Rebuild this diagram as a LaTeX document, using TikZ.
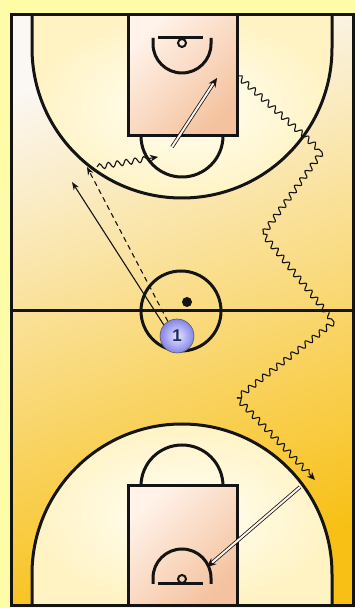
\documentclass[tikz,border=0pt]{standalone}
\usepackage{fontspec}
\newfontfamily\numfont{Liberation Sans}
\usepackage{tikz}
\usetikzlibrary{arrows.meta,decorations.pathmorphing}
\definecolor{Frame}{HTML}{FFFCA8}
\definecolor{CourtTop}{HTML}{FBF7F2}
\definecolor{CourtMid}{HTML}{FCE07A}
\definecolor{CourtGold}{HTML}{F8C014}
\definecolor{Cream}{HTML}{FFFFF6}
\definecolor{CreamEdge}{HTML}{FFF3C4}
\definecolor{LaneLight}{HTML}{FFF3EA}
\definecolor{LanePeach}{HTML}{F4C29E}
\definecolor{Ink}{HTML}{141414}
\definecolor{PlayerIn}{HTML}{E6E6FF}
\definecolor{PlayerOut}{HTML}{8484EA}
\definecolor{Navy}{HTML}{1E2C5C}

\begin{document}
\begin{tikzpicture}[x=1pt,y=1pt,
  court/.style={draw=Ink,line width=3pt},
  lane/.style={top color=LaneLight,bottom color=LanePeach,shading angle=45},
  player/.style={circle,draw=Ink!70,line width=0.6pt,inner sep=0pt,minimum size=34pt,shading=radial,inner color=PlayerIn,outer color=PlayerOut,font=\numfont\bfseries\fontsize{17}{17}\selectfont,text=Navy},
  cutarr/.style={-{Stealth[length=8pt,width=6pt]},line width=1.1pt,draw=Ink},
  passarr/.style={cutarr,dash pattern=on 5pt off 4pt},
  wave/.style={line width=1.1pt,draw=Ink,decorate,decoration={snake,amplitude=2.8pt,segment length=9pt}},
  dribarr/.style={wave,-{Stealth[length=8pt,width=7pt]},decoration={snake,amplitude=2.8pt,segment length=9pt,post length=7pt}},
  shotarr/.style={-{Stealth[length=9pt,width=8pt]},draw=Ink,line width=0.8pt,double=LaneLight,double distance=2pt}]
% floor
\fill[Frame] (0,0) rectangle (355,608);
\shade[top color=CourtTop,middle color=CourtMid,bottom color=CourtGold,shading angle=20] (11,2) rectangle (353,593);
\shade[inner color=Cream,outer color=CreamEdge] (32,593) -- (32,560) arc[start angle=180,end angle=360,radius=150] -- (332,593) -- cycle;
\shade[inner color=Cream,outer color=CreamEdge] (32,2) -- (32,34) arc[start angle=180,end angle=0,radius=150] -- (332,2) -- cycle;
\shade[lane] (128,472) rectangle (237,593);
\shade[lane] (128,2) rectangle (237,122);
% court lines
\draw[court] (11,2) rectangle (353,593);
\draw[court] (11,297) -- (353,297);
\draw[court] (181,297) circle[radius=40];
\draw[court] (32,593) -- (32,560) arc[start angle=180,end angle=360,radius=150] -- (332,593);
\draw[court] (32,2) -- (32,34) arc[start angle=180,end angle=0,radius=150] -- (332,2);
\draw[court] (128,472) rectangle (237,593);
\draw[court] (128,2) rectangle (237,122);
\draw[court] (141,472) arc[start angle=180,end angle=360,radius=41];
\draw[court] (141,122) arc[start angle=180,end angle=0,radius=41];
\draw[court] (158,570) -- (203,570);
\draw[court] (153,570) -- (153,564) arc[start angle=180,end angle=360,radius=29] -- (211,570);
\draw[court,line width=2pt] (182,565) circle[radius=4];
\draw[court] (158,24) -- (203,24);
\draw[court] (153,24) -- (153,30) arc[start angle=180,end angle=0,radius=29] -- (211,24);
\draw[court,line width=2pt] (182,29) circle[radius=4];
% players and ball
\node[circle,fill=Ink,inner sep=0pt,minimum size=10pt] (ball) at (187,306) {};
\node[player] (p1) at (177,272) {1};
% end points
\coordinate (cutend) at (72,426);
\coordinate (wing) at (87,441);
\coordinate (dribstart) at (97,441);
\coordinate (elbow) at (158,451);
\coordinate (shotstart) at (172,461);
\coordinate (rim) at (217,530);
\coordinate (w0) at (238,532);
\coordinate (w1) at (322,456);
\coordinate (w2) at (263,374);
\coordinate (w3) at (334,286);
\coordinate (w4) at (237,210);
\coordinate (w5) at (315,128);
\coordinate (shot2start) at (300,121);
\coordinate (rim2) at (207,41);
% moves
\draw[cutarr] (p1.140) -- (cutend);
\draw[passarr] (p1.122) -- (wing);
\draw[dribarr] (dribstart) -- (elbow);
\draw[shotarr] (shotstart) -- (rim);
\draw[wave] (w0) -- (w1);
\draw[wave] (w1) -- (w2);
\draw[wave] (w2) -- (w3);
\draw[wave] (w3) -- (w4);
\draw[dribarr] (w4) -- (w5);
\draw[shotarr] (shot2start) -- (rim2);
\end{tikzpicture}
\end{document}
